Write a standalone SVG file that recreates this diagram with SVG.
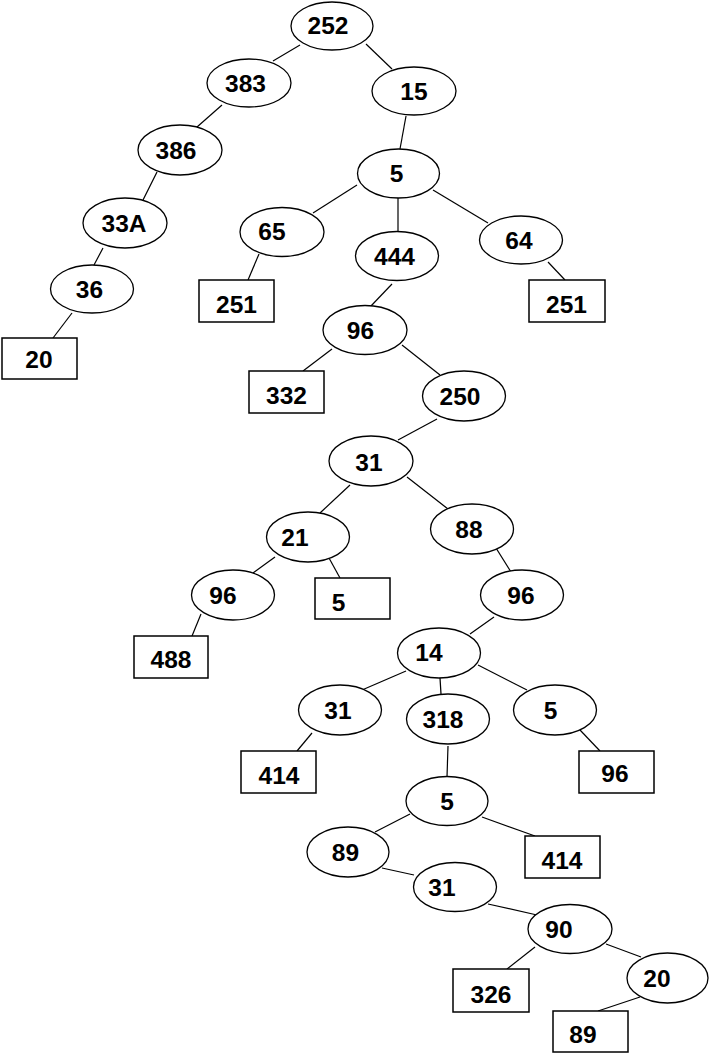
<svg xmlns="http://www.w3.org/2000/svg" width="709" height="1053" viewBox="0 0 709 1053">
<style>
ellipse{fill:#fff;stroke:#000;stroke-width:1.3}
rect{fill:#fff;stroke:#000;stroke-width:1.5}
text{font-family:"Liberation Sans",Arial,sans-serif;font-weight:bold;font-size:24.5px;text-anchor:middle;fill:#000}
#connectors line{stroke:#000;stroke-width:1.2}
</style>
<rect x="0" y="0" width="709" height="1053" style="fill:#fff;stroke:none"/>
<g id="connectors">
<line x1="300" y1="45" x2="273" y2="61"/>
<line x1="366" y1="44" x2="392" y2="69"/>
<line x1="406" y1="116" x2="400" y2="149"/>
<line x1="222" y1="105" x2="197" y2="127"/>
<line x1="157" y1="172" x2="143" y2="200"/>
<line x1="103" y1="248" x2="94" y2="265"/>
<line x1="72" y1="313" x2="53" y2="338"/>
<line x1="357" y1="185" x2="313" y2="213"/>
<line x1="398" y1="197" x2="398" y2="232"/>
<line x1="433" y1="190" x2="488" y2="223"/>
<line x1="259" y1="254" x2="248" y2="280"/>
<line x1="548" y1="262" x2="565" y2="280"/>
<line x1="392" y1="284" x2="370" y2="307"/>
<line x1="332" y1="349" x2="303" y2="371"/>
<line x1="402" y1="345" x2="440" y2="375"/>
<line x1="437" y1="419" x2="398" y2="440"/>
<line x1="350" y1="485" x2="320" y2="513"/>
<line x1="407" y1="477" x2="448" y2="509"/>
<line x1="275" y1="557" x2="253" y2="573"/>
<line x1="329" y1="558" x2="340" y2="578"/>
<line x1="201" y1="614" x2="192" y2="636"/>
<line x1="496" y1="548" x2="511" y2="572"/>
<line x1="494" y1="617" x2="470" y2="634"/>
<line x1="406" y1="671" x2="362" y2="690"/>
<line x1="440" y1="678" x2="441" y2="694"/>
<line x1="478" y1="665" x2="527" y2="690"/>
<line x1="312" y1="733" x2="297" y2="751"/>
<line x1="580" y1="730" x2="600" y2="751"/>
<line x1="448" y1="746" x2="447" y2="777"/>
<line x1="410" y1="814" x2="375" y2="832"/>
<line x1="482" y1="817" x2="535" y2="836"/>
<line x1="382" y1="868" x2="414" y2="875"/>
<line x1="488" y1="904" x2="537" y2="915"/>
<line x1="535" y1="947" x2="507" y2="969"/>
<line x1="606" y1="944" x2="641" y2="957"/>
<line x1="640" y1="997" x2="598" y2="1011"/>
</g>
<g id="n252"><ellipse cx="332" cy="26" rx="41" ry="24"/><text x="328" y="34">252</text></g>
<g id="n383"><ellipse cx="249" cy="83" rx="42" ry="24"/><text x="245.5" y="92">383</text></g>
<g id="n15"><ellipse cx="414" cy="91" rx="42" ry="24"/><text x="414" y="100">15</text></g>
<g id="n5a"><ellipse cx="398.5" cy="173.5" rx="41" ry="24.5"/><text x="396.5" y="182">5</text></g>
<g id="n386"><ellipse cx="180" cy="150" rx="42" ry="25"/><text x="176" y="159">386</text></g>
<g id="n33A"><ellipse cx="125" cy="223" rx="42" ry="25"/><text x="124" y="232">33A</text></g>
<g id="n36"><ellipse cx="92" cy="289" rx="41.5" ry="24"/><text x="89.5" y="298">36</text></g>
<g id="r20"><rect x="2" y="338" width="75" height="41"/><text x="39" y="368">20</text></g>
<g id="n65"><ellipse cx="282" cy="232" rx="42" ry="24.5"/><text x="272" y="240">65</text></g>
<g id="n444"><ellipse cx="397" cy="256" rx="41.5" ry="24.5"/><text x="394.5" y="265">444</text></g>
<g id="n64"><ellipse cx="521" cy="240" rx="41.5" ry="24"/><text x="519" y="249">64</text></g>
<g id="r251a"><rect x="199" y="280" width="75" height="42"/><text x="236.5" y="313">251</text></g>
<g id="r251b"><rect x="529" y="280" width="76" height="42"/><text x="566.5" y="313">251</text></g>
<g id="n96a"><ellipse cx="365" cy="330" rx="42" ry="24.5"/><text x="360.5" y="339">96</text></g>
<g id="r332"><rect x="249" y="371" width="75" height="42"/><text x="286.5" y="404">332</text></g>
<g id="n250"><ellipse cx="464" cy="396" rx="41.5" ry="25"/><text x="460" y="405">250</text></g>
<g id="n31a"><ellipse cx="371" cy="461" rx="42" ry="25"/><text x="369" y="471">31</text></g>
<g id="n21"><ellipse cx="308" cy="537" rx="41.5" ry="25"/><text x="295" y="546">21</text></g>
<g id="n88"><ellipse cx="472" cy="529" rx="41.5" ry="25"/><text x="469" y="538">88</text></g>
<g id="n96b"><ellipse cx="233" cy="595" rx="41.5" ry="25"/><text x="223" y="604">96</text></g>
<g id="r5"><rect x="315" y="578" width="75" height="41"/><text x="338.5" y="611">5</text></g>
<g id="n96c"><ellipse cx="522" cy="595" rx="41.5" ry="25"/><text x="521" y="604">96</text></g>
<g id="r488"><rect x="134" y="636" width="74" height="42"/><text x="171" y="668">488</text></g>
<g id="n14"><ellipse cx="439" cy="653" rx="41.5" ry="25"/><text x="429" y="661">14</text></g>
<g id="n31b"><ellipse cx="340" cy="710" rx="41.5" ry="25"/><text x="338" y="719">31</text></g>
<g id="n318"><ellipse cx="448" cy="719" rx="41.5" ry="25"/><text x="443" y="728">318</text></g>
<g id="n5b"><ellipse cx="555" cy="710" rx="41.5" ry="25"/><text x="550.5" y="719">5</text></g>
<g id="r414a"><rect x="241" y="751" width="75" height="42"/><text x="279" y="784">414</text></g>
<g id="r96"><rect x="579" y="751" width="75" height="42"/><text x="615" y="782">96</text></g>
<g id="n5c"><ellipse cx="447" cy="801" rx="41" ry="24.5"/><text x="447" y="810">5</text></g>
<g id="n89"><ellipse cx="348" cy="852" rx="41" ry="25"/><text x="345.5" y="861">89</text></g>
<g id="r414b"><rect x="525" y="836" width="75" height="42"/><text x="562" y="869">414</text></g>
<g id="n31c"><ellipse cx="455" cy="887" rx="41.5" ry="24.5"/><text x="442" y="896">31</text></g>
<g id="n90"><ellipse cx="570" cy="929" rx="42" ry="24.5"/><text x="559" y="938">90</text></g>
<g id="n20"><ellipse cx="667.5" cy="978" rx="40.5" ry="25"/><text x="657" y="987">20</text></g>
<g id="r326"><rect x="453" y="969" width="76" height="43"/><text x="491" y="1003">326</text></g>
<g id="r89"><rect x="553" y="1011" width="75" height="41"/><text x="583" y="1043">89</text></g>
</svg>
